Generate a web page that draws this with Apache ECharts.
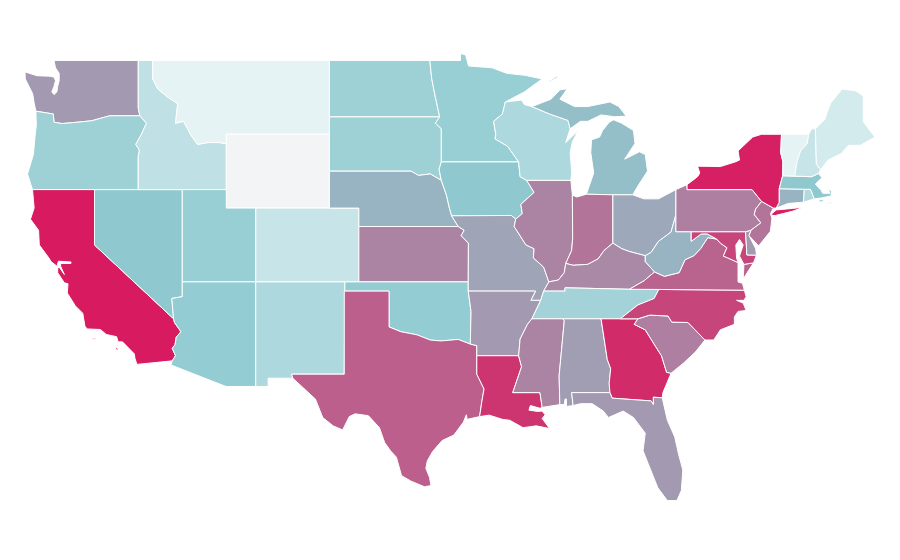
<!DOCTYPE html>
<html>
<head>
<meta charset="utf-8">
<title>US states</title>
<script src="https://cdn.jsdelivr.net/npm/echarts@6/dist/echarts.min.js"></script>
<style>
html, body { margin: 0; padding: 0; background: #fff; }
#main { width: 900px; height: 560px; }
</style>
</head>
<body>
<div id="main"></div>
<script>
var stateNames = ['Washington','Oregon','California','Nevada','Idaho','Montana','Wyoming','Utah','Arizona','Colorado','New Mexico',
  'North Dakota','South Dakota','Nebraska','Kansas','Oklahoma','Texas','Minnesota','Iowa','Missouri','Arkansas','Louisiana',
  'Wisconsin','Illinois','Michigan','Indiana','Ohio','Kentucky','Tennessee','Mississippi','Alabama','Georgia','Florida',
  'South Carolina','North Carolina','Virginia','West Virginia','Maryland','Delaware','Pennsylvania','New Jersey','New York',
  'Connecticut','Rhode Island','Massachusetts','Vermont','New Hampshire','Maine'];
var stateValues = [76,61,100,67,48,33,0,63,65,45,55,
  61,61,71,80,65,87,63,67,74,76,95,
  55,80,69,83,73,79,59,80,75,97,76,
  81,92,86,71,92,76,81,83,99,
  71,54,67,33,45,40];
var colorStops = ['#f3f4f6', '#e5f3f5', '#8fcad0', '#d81b60'];

// outlines as lon,lat; each state is a list of polygons, each polygon a list of rings
var stateShapes = {
  'Washington': [['-122.75,49 -117.03,49 -117.03,46.42 -116.92,46 -118.98,46 -119.3,45.93 -120.2,45.73 -121.2,45.65 -122.2,45.58 -122.75,45.65 -122.8,46.1 -123.2,46.15 -123.98,46.25 -124.1,46.7 -124.2,47.2 -124.7,48 -124.72,48.38 -123.9,48.17 -123.1,48.15 -122.75,48.1 -122.65,47.9 -122.75,47.6 -122.9,47.3 -122.75,47.15 -122.55,47.3 -122.5,47.6 -122.4,47.9 -122.4,48.3 -122.65,48.6']],
  'Oregon': [['-116.92,46 -118.98,46 -119.3,45.93 -120.2,45.73 -121.2,45.65 -122.2,45.58 -122.75,45.65 -122.8,46.1 -123.2,46.15 -123.98,46.25 -123.95,45.5 -124.05,44.8 -124.15,43.9 -124.55,42.84 -124.21,42 -117.03,42 -117.03,43.8 -116.95,44.1 -117.03,44.25 -117.2,44.45 -116.85,44.95 -116.47,45.6']],
  'California': [['-124.21,42 -120,42 -120,39 -114.63,35 -114.57,34.8 -114.13,34.3 -114.45,34 -114.53,33.6 -114.72,33.4 -114.5,33 -114.72,32.72 -117.12,32.53 -117.25,32.85 -117.3,33.1 -118.1,33.75 -118.4,33.75 -118.5,34.03 -119.2,34.15 -119.6,34.42 -120.5,34.45 -120.65,34.6 -120.8,35.3 -121.3,35.7 -121.85,36.4 -121.8,36.9 -122.05,36.95 -122.5,37.5 -122.5,37.78 -122.38,37.78 -122.05,37.4 -122.3,37.85 -122.3,38 -121.6,38 -121.6,38.08 -122.45,38.12 -122.55,37.85 -122.95,38.1 -123.1,38.3 -123.75,39 -123.8,39.8 -124.35,40.4 -124.1,41'],
    ['-120.15,33.95 -119.95,33.95 -119.95,33.88 -120.15,33.88'], ['-118.6,33.45 -118.4,33.4 -118.4,33.3 -118.55,33.33']],
  'Nevada': [['-120,42 -114.04,42 -114.04,36.2 -114.75,36.1 -114.63,35 -120,39']],
  'Idaho': [['-117.03,49 -116.05,49 -116.05,48 -115.7,47.45 -115,47 -114.35,46.65 -114.5,45.6 -113.95,45.7 -113.45,44.95 -113,44.45 -112.3,44.55 -111.5,44.55 -111.05,44.48 -111.05,42 -117.03,42 -117.03,43.8 -116.95,44.1 -117.03,44.25 -117.2,44.45 -116.85,44.95 -116.47,45.6 -116.92,46 -117.03,46.42']],
  'Montana': [['-116.05,49 -104.05,49 -104.05,45 -111.05,45 -111.05,44.48 -111.5,44.55 -112.3,44.55 -113,44.45 -113.45,44.95 -113.95,45.7 -114.5,45.6 -114.35,46.65 -115,47 -115.7,47.45 -116.05,48']],
  'Wyoming': [['-111.05,45 -104.05,45 -104.05,41 -111.05,41']],
  'Utah': [['-114.04,42 -111.05,42 -111.05,41 -109.05,41 -109.05,37 -114.04,37']],
  'Arizona': [['-114.04,37 -109.05,37 -109.05,31.33 -111.07,31.33 -114.81,32.5 -114.72,32.72 -114.5,33 -114.72,33.4 -114.53,33.6 -114.45,34 -114.13,34.3 -114.57,34.8 -114.63,35 -114.75,36.1 -114.04,36.2']],
  'Colorado': [['-109.05,41 -102.05,41 -102.05,37 -109.05,37']],
  'New Mexico': [['-109.05,37 -103,37 -103.04,32 -106.62,32 -106.53,31.78 -108.21,31.78 -108.21,31.33 -109.05,31.33']],
  'North Dakota': [['-104.05,49 -97.23,49 -97.1,48 -96.85,47 -96.56,45.94 -104.05,45.94']],
  'South Dakota': [['-104.05,45.94 -96.56,45.94 -96.85,45.6 -96.45,45.3 -96.45,43.5 -96.6,43.1 -96.45,42.5 -97.2,42.85 -98,42.77 -98.5,43 -104.05,43']],
  'Nebraska': [['-104.05,43 -98.5,43 -98,42.77 -97.2,42.85 -96.45,42.5 -96.1,41.7 -95.9,41 -95.75,40.58 -95.3,40 -102.05,40 -102.05,41 -104.05,41']],
  'Kansas': [['-102.05,40 -95.3,40 -94.9,39.8 -95.1,39.5 -94.61,39.1 -94.62,37 -102.05,37']],
  'Oklahoma': [['-103,37 -94.62,37 -94.62,36.5 -94.43,35.4 -94.48,33.63 -95.3,33.88 -96.5,33.8 -97.2,33.85 -98.1,34.13 -99.2,34.3 -100,34.56 -100,36.5 -103,36.5']],
  'Texas': [['-103.04,36.5 -100,36.5 -100,34.56 -99.2,34.3 -98.1,34.13 -97.2,33.85 -96.5,33.8 -95.3,33.88 -94.48,33.63 -94.04,33.55 -94.04,33 -94.04,32 -93.55,31.2 -93.7,30.5 -93.85,29.7 -94.7,29.55 -94.75,29.8 -94.95,29.4 -95.6,28.7 -96.4,28.4 -97.05,27.8 -97.4,27.3 -97.5,26.9 -97.25,26.4 -97.15,25.96 -97.6,25.9 -98.5,26.2 -99.15,26.5 -99.5,27.5 -99.9,27.85 -100.3,28.3 -100.65,29.1 -101.4,29.75 -102.3,29.85 -102.7,29.7 -103.15,28.98 -103.8,29.2 -104.5,29.65 -104.7,30.05 -105,30.65 -106.53,31.78 -106.62,32 -103.04,32']],
  'Minnesota': [['-97.23,49 -95.15,49 -95.15,49.38 -94.8,49.3 -94.6,48.7 -93,48.6 -92,48.3 -90.8,48.2 -89.6,48 -90.8,47.3 -92.1,46.75 -92.3,46.1 -92.9,45.7 -92.75,45 -92.8,44.75 -91.95,44.35 -91.2,43.5 -96.45,43.5 -96.45,45.3 -96.85,45.6 -96.56,45.94 -96.85,47 -97.1,48']],
  'Iowa': [['-96.45,43.5 -91.2,43.5 -91.1,42.7 -90.65,42.5 -90.15,41.85 -91.05,41.2 -90.95,40.7 -91.4,40.4 -91.7,40.6 -95.75,40.58 -95.9,41 -96.1,41.7 -96.45,42.5 -96.6,43.1']],
  'Missouri': [['-95.75,40.58 -91.7,40.6 -91.4,40.4 -91.5,40 -90.7,39 -90.15,38.8 -90.2,38.3 -89.5,37.8 -89.15,37 -89.5,36.5 -89.7,36 -90.37,36 -90.05,36.5 -94.62,36.5 -94.62,37 -94.61,39.1 -95.1,39.5 -94.9,39.8 -95.3,40']],
  'Arkansas': [['-94.62,36.5 -90.05,36.5 -90.37,36 -89.7,36 -90.3,35 -90.6,34.7 -91.1,33.9 -91.2,33 -94.04,33 -94.04,33.55 -94.48,33.63 -94.43,35.4']],
  'Louisiana': [['-94.04,33 -91.2,33 -91,32.4 -91.6,31 -89.75,31 -89.6,30.2 -89.75,30.15 -90.4,30.3 -90.5,30.05 -89.9,29.98 -89.6,30 -89.4,29.8 -89.6,29.6 -89.1,29.05 -90,29.2 -90.9,29.1 -91.8,29.5 -92.3,29.55 -93.2,29.78 -93.85,29.7 -93.7,30.5 -93.55,31.2 -94.04,32']],
  'Wisconsin': [['-92.1,46.75 -91,46.85 -90.8,46.6 -90.3,46.5 -89.1,46.1 -87.85,45.75 -87.7,45.3 -88,44.55 -87.15,45.2 -87.55,44.6 -87.7,44 -87.6,43 -87.65,42.5 -90.65,42.5 -91.1,42.7 -91.2,43.5 -91.95,44.35 -92.8,44.75 -92.75,45 -92.9,45.7 -92.3,46.1']],
  'Illinois': [['-90.65,42.5 -87.65,42.5 -87.55,41.7 -87.53,39.35 -87.6,38.7 -88,38 -88.1,37.5 -88.5,37.1 -89.15,37 -89.5,37.8 -90.2,38.3 -90.15,38.8 -90.7,39 -91.5,40 -91.4,40.4 -90.95,40.7 -91.05,41.2 -90.15,41.85']],
  'Michigan': [['-86.6,41.75 -84.8,41.72 -83.45,41.72 -83.1,42.2 -82.45,43 -82.6,43.9 -83,44.05 -84,43.65 -83.3,44.5 -83.4,45.2 -84.2,45.6 -84.75,45.78 -85.05,45.65 -85.5,45.2 -85.7,44.85 -86.25,44.7 -86.3,44 -86.1,42.9'],
    ['-90.3,46.5 -89,46.9 -88.4,47.4 -87.9,47.47 -88.4,46.9 -87.4,46.5 -86.5,46.5 -85,46.75 -84.4,46.5 -84.1,46.2 -83.9,45.98 -84.7,45.95 -85.6,46.05 -86.5,45.7 -87,45.7 -87.7,45.3 -87.85,45.75 -89.1,46.1'],
    ['-89.2,47.85 -88.6,48.15 -88.5,48.1 -89.1,47.85']],
  'Indiana': [['-87.55,41.7 -87.25,41.6 -86.6,41.75 -84.8,41.72 -84.8,39.1 -85.4,38.7 -85.8,38.25 -86.5,37.95 -87.5,37.9 -88,38 -87.6,38.7 -87.53,39.35']],
  'Ohio': [['-84.8,41.72 -83.45,41.72 -82.7,41.5 -81.7,41.5 -80.52,42 -80.52,40.64 -80.85,39.7 -81.7,39.2 -82.2,38.6 -82.6,38.42 -83.7,38.65 -84.2,38.8 -84.8,39.1']],
  'Kentucky': [['-89.5,36.5 -89.15,37 -88.5,37.1 -88.1,37.5 -88,38 -87.5,37.9 -86.5,37.95 -85.8,38.25 -85.4,38.7 -84.8,39.1 -84.2,38.8 -83.7,38.65 -82.6,38.42 -82.6,38.1 -81.97,37.54 -82.7,37.05 -83.68,36.6 -88.05,36.68 -88.05,36.5']],
  'Tennessee': [['-90.3,35 -89.7,36 -89.5,36.5 -88.05,36.5 -88.05,36.68 -83.68,36.6 -81.68,36.59 -82,36.1 -83.1,35.75 -84.3,35']],
  'Mississippi': [['-91.2,33 -91.1,33.9 -90.6,34.7 -90.3,35 -88.2,35 -88.1,34.9 -88.45,31.9 -88.4,30.35 -89.6,30.2 -89.75,31 -91.6,31 -91,32.4']],
  'Alabama': [['-88.2,35 -85.6,35 -85.18,32.8 -84.95,32.3 -85.05,31.5 -85,31 -87.6,31 -87.5,30.3 -87.95,30.25 -87.95,30.65 -88.05,30.65 -88.1,30.35 -88.4,30.35 -88.45,31.9 -88.1,34.9']],
  'Georgia': [['-85.6,35 -84.3,35 -83.1,35 -83.35,34.7 -82.6,34.4 -81.9,33.5 -81.5,33 -81.15,32.1 -80.85,32.05 -81.4,31 -81.45,30.72 -82.05,30.75 -82.05,30.35 -82.2,30.55 -84.85,30.7 -85,31 -85.05,31.5 -84.95,32.3 -85.18,32.8']],
  'Florida': [['-87.6,31 -85,31 -84.85,30.7 -82.2,30.55 -82.05,30.35 -82.05,30.75 -81.45,30.72 -81.1,29.5 -80.6,28.6 -80.35,27.7 -80.05,26.8 -80.15,25.7 -80.45,25.15 -81.1,25.15 -81.75,25.85 -82.4,27.15 -82.75,27.85 -82.6,28.8 -83.4,29.65 -84.1,30 -85.1,29.65 -85.45,30 -86.2,30.4 -87,30.4 -87.5,30.3']],
  'South Carolina': [['-83.1,35 -82.3,35.2 -81.05,35.15 -80.8,34.82 -79.7,34.8 -78.55,33.85 -79.2,33.2 -80,32.6 -80.85,32.05 -81.15,32.1 -81.5,33 -81.9,33.5 -82.6,34.4 -83.35,34.7']],
  'North Carolina': [['-81.68,36.59 -75.87,36.55 -75.75,36.2 -75.9,36 -76.4,36 -75.95,35.85 -75.75,35.45 -76.3,35.4 -76.55,35.1 -76.55,34.7 -77.5,34.4 -77.95,33.85 -78.55,33.85 -79.7,34.8 -80.8,34.82 -81.05,35.15 -82.3,35.2 -83.1,35 -84.3,35 -83.1,35.75 -82,36.1']],
  'Virginia': [['-83.68,36.6 -82.7,37.05 -81.97,37.54 -81.3,37.3 -80.3,37.5 -79.9,38.2 -79.3,38.42 -78.85,38.8 -78.35,39.4 -77.75,39.32 -77.5,39.1 -77.05,38.85 -77.3,38.4 -77,38.3 -76.3,38.05 -76.3,37.5 -76.3,37 -76,36.92 -75.87,36.55 -81.68,36.59'],
    ['-75.25,38.03 -75.9,37.95 -75.95,37.15 -75.6,37.6']],
  'West Virginia': [['-80.52,40.64 -80.52,39.72 -79.48,39.72 -79.48,39.2 -78.8,39.6 -78.4,39.6 -77.75,39.32 -78.35,39.4 -78.85,38.8 -79.3,38.42 -79.9,38.2 -80.3,37.5 -81.3,37.3 -81.97,37.54 -82.6,38.1 -82.6,38.42 -82.2,38.6 -81.7,39.2 -80.85,39.7']],
  'Maryland': [['-79.48,39.72 -75.79,39.72 -75.7,38.46 -75.05,38.45 -75.25,38.03 -75.9,37.95 -76.2,38.4 -75.95,39 -76.2,39.3 -76.45,39 -76.4,38.3 -76.3,38.05 -77,38.3 -77.3,38.4 -77.05,38.85 -77.5,39.1 -77.75,39.32 -78.4,39.6 -78.8,39.6 -79.48,39.2']],
  'Delaware': [['-75.79,39.72 -75.42,39.8 -75.55,39.5 -75.1,38.8 -75.05,38.45 -75.7,38.46']],
  'Pennsylvania': [['-80.52,42 -79.76,42.27 -79.76,42 -75.35,42 -74.7,41.36 -75.1,40.95 -75.2,40.65 -74.75,40.2 -75.42,39.8 -75.79,39.72 -80.52,39.72 -80.52,40.64']],
  'New Jersey': [['-74.7,41.36 -73.9,41 -74.1,40.7 -74,40.45 -74.1,39.75 -74.9,38.95 -75.55,39.5 -75.42,39.8 -74.75,40.2 -75.2,40.65 -75.1,40.95']],
  'New York': [['-79.76,42.27 -79.05,42.7 -78.9,42.9 -79.05,43.27 -77.5,43.25 -76.5,43.5 -76.2,43.6 -76.3,44.1 -75.3,44.85 -74.7,45 -73.35,45 -73.4,44 -73.25,43.5 -73.27,42.75 -73.5,42.05 -73.5,41.3 -73.7,41 -73.9,41 -74.7,41.36 -75.35,42 -79.76,42'],
    ['-74.03,40.6 -73.75,40.6 -72.5,40.85 -71.9,41.05 -72.6,40.98 -73.7,40.9 -74,40.7']],
  'Connecticut': [['-73.5,42.05 -71.8,42.02 -71.85,41.32 -72.9,41.25 -73.7,41 -73.5,41.3']],
  'Rhode Island': [['-71.8,42.02 -71.38,42.02 -71.12,41.5 -71.85,41.32']],
  'Massachusetts': [['-73.5,42.05 -73.27,42.75 -72.45,42.73 -71.3,42.7 -70.85,42.87 -70.6,42.65 -71.05,42.3 -70.65,41.95 -70.55,41.8 -70.05,41.8 -70.2,42.07 -69.95,41.9 -70,41.65 -70.65,41.55 -71.12,41.5 -71.38,42.02 -71.8,42.02'],
    ['-70.8,41.45 -70.5,41.45 -70.5,41.35 -70.8,41.33'], ['-70.2,41.32 -69.95,41.3 -70,41.23 -70.2,41.25']],
  'Vermont': [['-73.35,45 -71.5,45 -71.6,44.5 -72.05,44.1 -72.3,43.5 -72.45,42.73 -73.27,42.75 -73.25,43.5 -73.4,44']],
  'New Hampshire': [['-71.5,45 -71.3,45.3 -71.05,45.3 -70.98,43.4 -70.7,43.07 -70.85,42.87 -71.3,42.7 -72.45,42.73 -72.3,43.5 -72.05,44.1 -71.6,44.5']],
  'Maine': [['-71.05,45.3 -70.4,45.8 -70.25,46.2 -70,46.7 -69.23,47.45 -68.3,47.35 -67.8,47.07 -67.8,45.7 -67.45,45.3 -67,44.85 -68,44.4 -68.8,44.4 -69.3,43.95 -70.2,43.6 -70.7,43.07 -70.98,43.4']]
};

function parseRing(text) {
  return text.split(' ').map(function(pair) {
    return pair.split(',').map(Number);
  });
}

var features = stateNames.map(function(name) {
  return {
    type: 'Feature',
    properties: { name: name },
    geometry: {
      type: 'MultiPolygon',
      coordinates: stateShapes[name].map(function(polygon) {
        return polygon.map(parseRing);
      })
    }
  };
});

echarts.registerMap('usa', { type: 'FeatureCollection', features: features });

var myChart = echarts.init(document.getElementById('main'));
myChart.setOption({
  backgroundColor: '#fff',
  animation: false,
  tooltip: { show: false },
  visualMap: {
    show: false,
    min: 0,
    max: 100,
    inRange: { color: colorStops }
  },
  series: [{
    type: 'map',
    map: 'usa',
    aspectScale: 0.798,
    layoutCenter: [450, 277],
    layoutSize: 850,
    silent: true,
    label: { show: false },
    itemStyle: { borderColor: '#fff', borderWidth: 1 },
    data: stateNames.map(function(name, i) {
      return { name: name, value: stateValues[i] };
    })
  }]
});
</script>
</body>
</html>
